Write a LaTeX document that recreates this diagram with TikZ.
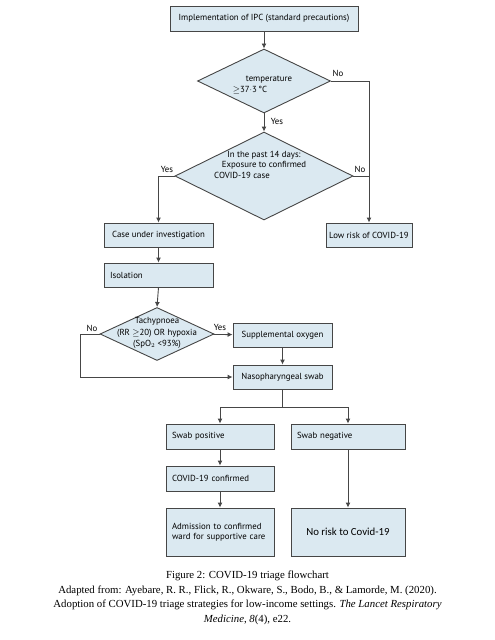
\documentclass[tikz,border=0pt]{standalone}
\usepackage{fontspec}
\setmainfont{Liberation Serif}
\newfontfamily\boxfont{PT Sans}
\newfontfamily\calfont{Carlito}
\usetikzlibrary{shapes.geometric,arrows.meta}
\definecolor{boxfill}{RGB}{219,233,241}
\definecolor{boxline}{RGB}{70,70,70}
% diamond text: lifted by #1, no height of its own
\newcommand{\dtext}[2]{\raisebox{#1}[0pt][0pt]{\begin{tabular}{@{}c@{}}#2\end{tabular}}}
\tikzset{
  flowbox/.style={draw=boxline,fill=boxfill,line width=0.9pt,font=\boxfont\fontsize{8.8}{10.5}\selectfont,inner sep=2pt},
  leftbox/.style={flowbox,align=left,inner xsep=6pt,text width=#1},
  decide/.style={diamond,draw=boxline,fill=boxfill,line width=0.9pt,font=\boxfont\fontsize{8.8}{10.5}\selectfont,inner sep=0pt,aspect=2},
  arr/.style={line width=0.9pt,draw=boxline,-{Latex[length=5pt,width=5pt]}},
  link/.style={line width=0.9pt,draw=boxline},
  tag/.style={font=\boxfont\fontsize{8.8}{10.5}\selectfont}
}
\begin{document}
\begin{tikzpicture}[x=1pt,y=-1pt]
\useasboundingbox (0,0) rectangle (495,640);
%\draw[step=10,gray!30,very thin] (0,0) grid (495,640); %background grid

% top part
\node[flowbox,minimum width=188,minimum height=25] (ipc) at (264,18.5) {Implementation of IPC (standard precautions)};
\node[decide,minimum width=133,minimum height=64] (temp) at (264,81) {\dtext{-6pt}{\hspace*{10pt}temperature\\ ${\geq}$37$\cdot$3\,\textdegree C\hspace*{28pt}}};
\node[decide,minimum width=178,minimum height=88] (expo) at (264,176) {\dtext{8pt}{In the past 14 days:\\ Exposure to confirmed\\ COVID-19 case\hspace*{44pt}}};
\node[flowbox,minimum width=109,minimum height=24] (case) at (158.5,235) {Case under investigation};
\node[flowbox,minimum width=86,minimum height=24] (low) at (369,235) {Low risk of COVID-19};
\node[leftbox=97pt,minimum height=24] (iso) at (158.5,275) {Isolation};

% middle part
\node[decide,minimum width=114,minimum height=53] (tachy) at (157,334) {\dtext{-1.5pt}{Tachypnoea\\[1pt] (RR ${\geq}$20) OR hypoxia\\[1pt] (SpO$_2$ <93\%)}};
\node[flowbox,minimum width=99,minimum height=24] (oxy) at (282.5,335) {Supplemental oxygen};
\node[flowbox,minimum width=99,minimum height=24] (naso) at (282.5,377) {Nasopharyngeal swab};

% bottom part
\node[leftbox=96pt,minimum height=25] (pos) at (220,436.5) {Swab positive};
\node[leftbox=102pt,minimum height=25] (neg) at (348,436.5) {Swab negative};
\node[leftbox=96pt,minimum height=25] (conf) at (220,478.5) {COVID-19 confirmed};
\node[leftbox=96pt,minimum height=48] (adm) at (220,532) {Admission to confirmed\\ ward for supportive care\\[6pt]};
\node[flowbox,minimum width=114,minimum height=48,font=\calfont\fontsize{10.8}{13}\selectfont] (norisk) at (348,532) {No risk to Covid-19};

% connectors
\draw[arr] (ipc) -- (temp);
\draw[arr] (temp) -- (expo);
\node[tag] (tempyes) at (277,121) {Yes};
\draw[arr] (temp.east) -| (low.north);
\node[tag] (tempno) at (338,73) {No};
\draw[link] (expo.east) -- (expo.east -| low.north);
\node[tag] (expono) at (360,169) {No};
\draw[arr] (expo.west) -| (case.north);
\node[tag] (expoyes) at (167,169) {Yes};
\draw[arr] (case) -- (iso);
\draw[arr] (iso.south) -- (tachy.north);
\draw[arr] (tachy) -- (oxy);
\node[tag] (tachyyes) at (220,327) {Yes};
\coordinate (bend) at (80,334);
\draw[arr] (tachy.west) -- (bend) |- (naso.west);
\node[tag] (tachyno) at (92,328) {No};
\draw[arr] (oxy) -- (naso);
\coordinate (split) at (282.5,407);
\draw[link] (naso) -- (split);
\draw[arr] (split) -| (pos.north);
\draw[arr] (split) -| (neg.north);
\draw[arr] (pos) -- (conf);
\draw[arr] (conf) -- (adm);
\draw[arr] (neg) -- (norisk);

% caption
\node[align=center,font=\fontsize{10.8}{14.5}\selectfont] (caption) at (247.5,598) {Figure 2: COVID-19 triage flowchart\\
Adapted from: Ayebare, R. R., Flick, R., Okware, S., Bodo, B., \& Lamorde, M. (2020).\\
Adoption of COVID-19 triage strategies for low-income settings. \textit{The Lancet Respiratory}\\
\textit{Medicine}, \textit{8}(4), e22.};
\end{tikzpicture}
\end{document}
